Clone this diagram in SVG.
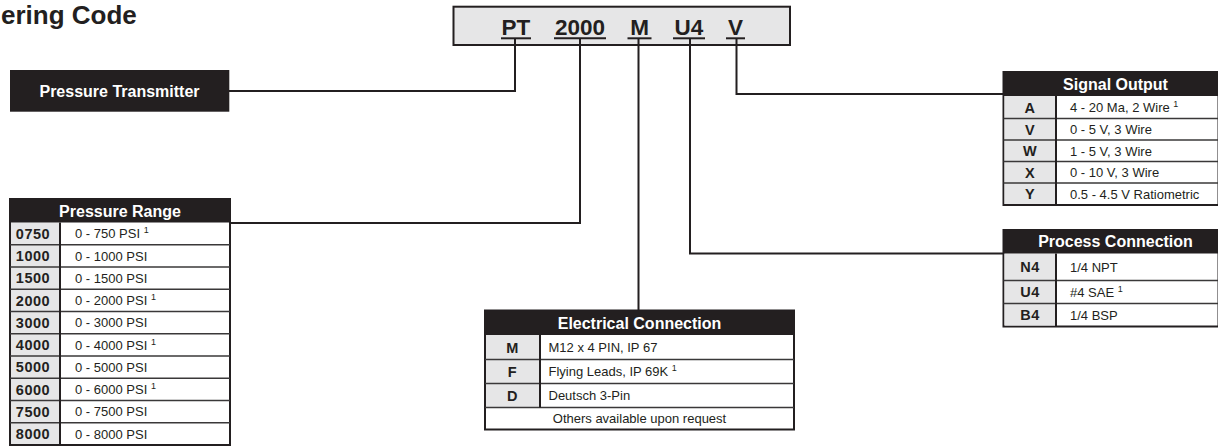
<svg xmlns="http://www.w3.org/2000/svg" width="1218" height="446" viewBox="0 0 1218 446">
<style>
text{font-family:"Liberation Sans",Arial,Helvetica,sans-serif;fill:#231f20}
.title{font-size:26px;font-weight:bold}
.code{font-size:22.5px;font-weight:bold;text-anchor:middle}
.hdr{font-size:16px;font-weight:bold;fill:#ffffff;text-anchor:middle}
.k{font-size:14.5px;font-weight:bold;text-anchor:middle;letter-spacing:0.5px}
.v{font-size:13px}
.sup{font-size:9px}
.hbox{fill:#231f20}
.tbl{fill:#ffffff;stroke:#231f20;stroke-width:2}
.kc{fill:#e6e6e7}
.rl{stroke:#3a3839;stroke-width:1.5;fill:none}
.div{stroke:#231f20;stroke-width:2}
.conn{stroke:#231f20;stroke-width:2;fill:none}
.ul{stroke:#231f20;stroke-width:2}
</style>

<text class="title" x="1" y="24">ering Code</text>

<g id="code-box">
  <rect x="453.5" y="6.7" width="336.5" height="38.3" fill="#e6e6e7" stroke="#231f20" stroke-width="2"/>
  <text class="code" x="516" y="35">PT</text>
  <text class="code" x="580" y="35">2000</text>
  <text class="code" x="639.5" y="35">M</text>
  <text class="code" x="689" y="35">U4</text>
  <text class="code" x="735.5" y="35">V</text>
  <line class="ul" x1="501" y1="38.3" x2="531" y2="38.3"/>
  <line class="ul" x1="554" y1="38.3" x2="606" y2="38.3"/>
  <line class="ul" x1="627.5" y1="38.3" x2="651.5" y2="38.3"/>
  <line class="ul" x1="673" y1="38.3" x2="705" y2="38.3"/>
  <line class="ul" x1="726" y1="38.3" x2="745" y2="38.3"/>
</g>

<g id="connectors">
  <polyline class="conn" points="515,38.3 515,91 229,91"/>
  <polyline class="conn" points="580,38.3 580,223 230,223"/>
  <polyline class="conn" points="638.5,38.3 638.5,310.5"/>
  <polyline class="conn" points="690,38.3 690,253.5 1003,253.5"/>
  <polyline class="conn" points="736.5,38.3 736.5,94 1003,94"/>
</g>

<g id="pressure-transmitter">
  <rect x="10" y="70" width="219.3" height="41.7" class="hbox"/>
  <text class="hdr" x="119.5" y="96.7">Pressure Transmitter</text>
</g>

<g id="pressure-range">
  <rect class="tbl" x="10" y="199" width="220" height="246"/>
  <rect class="kc" x="11" y="222.5" width="49" height="221.5"/>
  <rect class="hbox" x="10" y="199" width="220" height="23.5"/>
  <text class="hdr" x="120" y="216.5">Pressure Range</text>
  <g class="rl">
    <line x1="10" y1="244.75" x2="230" y2="244.75"/>
    <line x1="10" y1="267" x2="230" y2="267"/>
    <line x1="10" y1="289.25" x2="230" y2="289.25"/>
    <line x1="10" y1="311.5" x2="230" y2="311.5"/>
    <line x1="10" y1="333.75" x2="230" y2="333.75"/>
    <line x1="10" y1="356" x2="230" y2="356"/>
    <line x1="10" y1="378.25" x2="230" y2="378.25"/>
    <line x1="10" y1="400.5" x2="230" y2="400.5"/>
    <line x1="10" y1="422.75" x2="230" y2="422.75"/>
  </g>
  <line class="div" x1="60" y1="222.5" x2="60" y2="445"/>
  <text class="k" x="33" y="238.8">0750</text>
  <text class="k" x="33" y="261">1000</text>
  <text class="k" x="33" y="283.3">1500</text>
  <text class="k" x="33" y="305.5">2000</text>
  <text class="k" x="33" y="327.8">3000</text>
  <text class="k" x="33" y="350">4000</text>
  <text class="k" x="33" y="372.3">5000</text>
  <text class="k" x="33" y="394.5">6000</text>
  <text class="k" x="33" y="416.8">7500</text>
  <text class="k" x="33" y="439">8000</text>
  <text class="v" x="75" y="238.3">0 - 750 PSI <tspan class="sup" dy="-5">1</tspan></text>
  <text class="v" x="75" y="260.5">0 - 1000 PSI</text>
  <text class="v" x="75" y="282.8">0 - 1500 PSI</text>
  <text class="v" x="75" y="305">0 - 2000 PSI <tspan class="sup" dy="-5">1</tspan></text>
  <text class="v" x="75" y="327.3">0 - 3000 PSI</text>
  <text class="v" x="75" y="349.5">0 - 4000 PSI <tspan class="sup" dy="-5">1</tspan></text>
  <text class="v" x="75" y="371.8">0 - 5000 PSI</text>
  <text class="v" x="75" y="394">0 - 6000 PSI <tspan class="sup" dy="-5">1</tspan></text>
  <text class="v" x="75" y="416.3">0 - 7500 PSI</text>
  <text class="v" x="75" y="438.5">0 - 8000 PSI</text>
</g>

<g id="electrical-connection">
  <rect class="tbl" x="485" y="310.5" width="309" height="119"/>
  <rect class="kc" x="486" y="335" width="54" height="72"/>
  <rect class="hbox" x="485" y="310.5" width="309" height="24.5"/>
  <text class="hdr" x="639.5" y="328.5">Electrical Connection</text>
  <g class="rl">
    <line x1="485" y1="359.5" x2="794" y2="359.5"/>
    <line x1="485" y1="383.5" x2="794" y2="383.5"/>
    <line x1="485" y1="407.5" x2="794" y2="407.5"/>
  </g>
  <line class="div" x1="540" y1="335" x2="540" y2="407.5"/>
  <text class="k" x="512.5" y="352.5">M</text>
  <text class="k" x="512.5" y="376.8">F</text>
  <text class="k" x="512.5" y="400.8">D</text>
  <text class="v" x="548.5" y="352">M12 x 4 PIN, IP 67</text>
  <text class="v" x="548.5" y="376.3">Flying Leads, IP 69K <tspan class="sup" dy="-5">1</tspan></text>
  <text class="v" x="548.5" y="400.3">Deutsch 3-Pin</text>
  <text class="v" x="639.5" y="423.3" text-anchor="middle">Others available upon request</text>
</g>

<g id="signal-output">
  <rect class="tbl" x="1003.5" y="72" width="215" height="133"/>
  <rect class="kc" x="1004.5" y="96" width="51" height="108"/>
  <rect class="hbox" x="1003.5" y="72" width="215" height="24"/>
  <text class="hdr" x="1115.5" y="89.5">Signal Output</text>
  <g class="rl">
    <line x1="1003.5" y1="118.5" x2="1218" y2="118.5"/>
    <line x1="1003.5" y1="140" x2="1218" y2="140"/>
    <line x1="1003.5" y1="161.5" x2="1218" y2="161.5"/>
    <line x1="1003.5" y1="183" x2="1218" y2="183"/>
  </g>
  <line class="div" x1="1056" y1="96" x2="1056" y2="205"/>
  <text class="k" x="1030" y="112.5">A</text>
  <text class="k" x="1030" y="134.5">V</text>
  <text class="k" x="1030" y="156">W</text>
  <text class="k" x="1030" y="177.5">X</text>
  <text class="k" x="1030" y="199">Y</text>
  <text class="v" x="1070" y="112">4 - 20 Ma, 2 Wire <tspan class="sup" dy="-5">1</tspan></text>
  <text class="v" x="1070" y="134">0 - 5 V, 3 Wire</text>
  <text class="v" x="1070" y="155.5">1 - 5 V, 3 Wire</text>
  <text class="v" x="1070" y="177">0 - 10 V, 3 Wire</text>
  <text class="v" x="1070" y="198.5">0.5 - 4.5 V Ratiometric</text>
</g>

<g id="process-connection">
  <rect class="tbl" x="1003.5" y="230" width="215" height="96.5"/>
  <rect class="kc" x="1004.5" y="253.5" width="51" height="72"/>
  <rect class="hbox" x="1003.5" y="230" width="215" height="23.5"/>
  <text class="hdr" x="1115.5" y="247.3">Process Connection</text>
  <g class="rl">
    <line x1="1003.5" y1="280.5" x2="1218" y2="280.5"/>
    <line x1="1003.5" y1="303.5" x2="1218" y2="303.5"/>
  </g>
  <line class="div" x1="1056" y1="253.5" x2="1056" y2="326.5"/>
  <text class="k" x="1030" y="272.2">N4</text>
  <text class="k" x="1030" y="297.2">U4</text>
  <text class="k" x="1030" y="320.2">B4</text>
  <text class="v" x="1070" y="271.7">1/4 NPT</text>
  <text class="v" x="1070" y="296.7">#4 SAE <tspan class="sup" dy="-5">1</tspan></text>
  <text class="v" x="1070" y="319.7">1/4 BSP</text>
</g>
</svg>
